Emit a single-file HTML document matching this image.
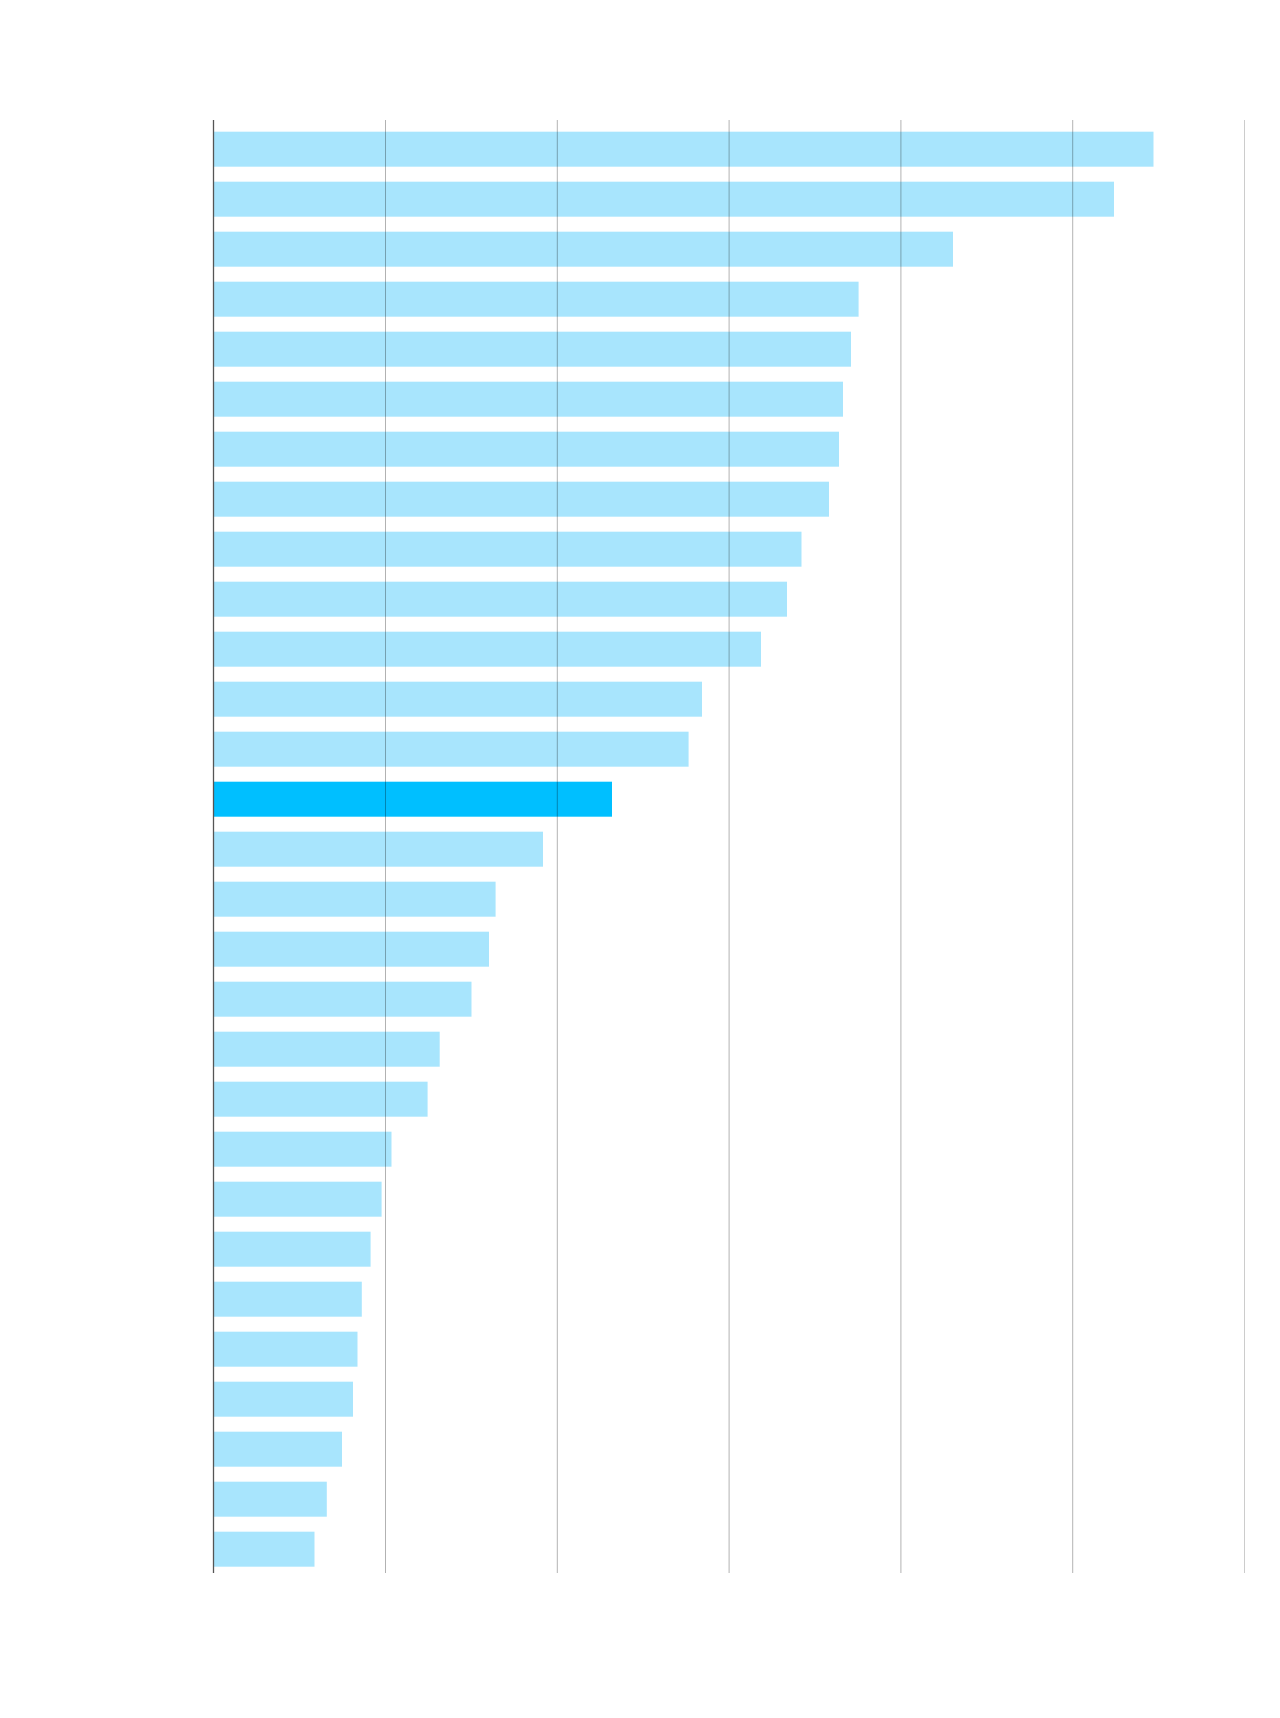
<!DOCTYPE html>
<html><head><style>
html,body{margin:0;padding:0;background:#fff;width:1280px;height:1718px;overflow:hidden}
</style></head><body>
<svg width="1280" height="1718" xmlns="http://www.w3.org/2000/svg">
<g id="bars"></g>
<g id="grid"></g>
</svg>
<script>
var ends=[1153.5,1114,953,858.6,851,843,839,829,801.5,787,761,702,688.6,612,543,495.6,489,471.5,439.7,427.6,391.5,381.6,370.6,361.8,357.5,353,342,326.8,314.5];
var ns="http://www.w3.org/2000/svg";
var b=document.getElementById("bars");
ends.forEach(function(e,i){
 var r=document.createElementNS(ns,"rect");
 r.setAttribute("x",214);r.setAttribute("y",131.7+i*50);
 r.setAttribute("width",e-214);r.setAttribute("height",35);
 r.setAttribute("fill",i==13?"#00bfff":"#a8e5fd");
 b.appendChild(r);
});
var g=document.getElementById("grid");
for(var k=1;k<=6;k++){
 var l=document.createElementNS(ns,"line");
 var x=213.7+171.8*k;
 l.setAttribute("x1",x);l.setAttribute("x2",x);l.setAttribute("y1",120);l.setAttribute("y2",1573);
 l.setAttribute("stroke",k==6?"#ccc":"rgba(0,0,0,0.3)");l.setAttribute("stroke-width",1);
 g.appendChild(l);
}
var a=document.createElementNS(ns,"line");
a.setAttribute("x1",213.5);a.setAttribute("x2",213.5);a.setAttribute("y1",120);a.setAttribute("y2",1573);
a.setAttribute("stroke","#555");a.setAttribute("stroke-width",1.3);
g.appendChild(a);
</script>
</body></html>
